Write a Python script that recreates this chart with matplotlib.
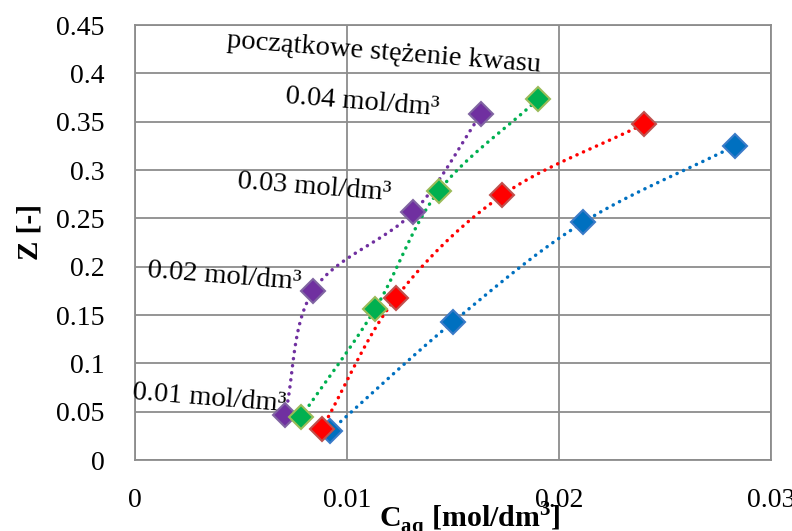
import numpy as np
import matplotlib
matplotlib.use("Agg")
import matplotlib.pyplot as plt

plt.rcParams['font.family'] = ['Liberation Serif', 'DejaVu Serif']
plt.rcParams['mathtext.fontset'] = 'custom'
plt.rcParams['mathtext.rm'] = 'Liberation Serif:bold'
plt.rcParams['mathtext.bf'] = 'Liberation Serif:bold'

# data: C_aq [mol/dm3] vs Z [-]
blue_x = [0.0092, 0.0150, 0.02115, 0.0283]
blue_z = [0.030, 0.1428, 0.246, 0.325]
red_x = [0.0088, 0.0123, 0.01733, 0.0240]
red_z = [0.032, 0.1676, 0.274, 0.3476]
purple_x = [0.00708, 0.0084, 0.01313, 0.01633]
purple_z = [0.0465, 0.175, 0.2565, 0.358]
green_x = [0.00783, 0.01132, 0.01432, 0.0190]
green_z = [0.0445, 0.156, 0.278, 0.373]

series = [
    (blue_x, blue_z, '#0070C0', '#3A7BC8'),
    (red_x, red_z, '#FF0000', '#C0504D'),
    (purple_x, purple_z, '#7030A0', '#8064A2'),
    (green_x, green_z, '#00B050', '#9BBB59'),
]

labels = ['0.01 mol/dm³', '0.02 mol/dm³', '0.03 mol/dm³', '0.04 mol/dm³']
label_pos = [(0.00349, 0.064), (0.00420, 0.190), (0.00844, 0.282), (0.01071, 0.370)]

yticks = [0, 0.05, 0.1, 0.15, 0.2, 0.25, 0.3, 0.35, 0.4, 0.45]
xticks = [0, 0.01, 0.02, 0.03]


def smooth(xs, ys, n=30):
    # catmull-rom through the points, like excel's smoothed line
    p = np.column_stack([xs, ys])
    p = np.vstack([p[0] * 2 - p[1], p, p[-1] * 2 - p[-2]])
    out = []
    t = np.linspace(0, 1, n)[:, None]
    for i in range(1, len(p) - 2):
        p0, p1, p2, p3 = p[i - 1], p[i], p[i + 1], p[i + 2]
        seg = 0.5 * ((2 * p1) + (-p0 + p2) * t + (2 * p0 - 5 * p1 + 4 * p2 - p3) * t ** 2
                     + (-p0 + 3 * p1 - 3 * p2 + p3) * t ** 3)
        out.append(seg)
    out = np.vstack(out)
    return out[:, 0], out[:, 1]


fig = plt.figure(figsize=(7.92, 5.31), dpi=100)
ax = fig.add_axes([0.1705, 0.1337, 0.803, 0.8192])

for xs, zs, col, edge in series:
    sx, sz = smooth(xs, zs)
    ax.plot(sx, sz, color=col, lw=2.5, linestyle=(0, (0.05, 2.0)),
            dash_capstyle='round', zorder=3)
    ax.plot(xs, zs, 'D', ms=12.5, color=col, mec=edge, mew=1.5, zorder=4)

ax.set_xlim(0, 0.03)
ax.set_ylim(0, 0.45)
ax.set_xticks(xticks)
ax.set_yticks(yticks)
ax.set_xticklabels(['0', '0.01', '0.02', '0.03'])
ax.set_yticklabels(['0', '0.05', '0.1', '0.15', '0.2', '0.25', '0.3', '0.35', '0.4', '0.45'])
ax.tick_params(length=0, labelsize=20)
ax.tick_params(axis='x', pad=20)
ax.tick_params(axis='y', pad=22)
ax.grid(True, color='#8C8C8C', lw=1.3)
ax.set_axisbelow(True)
for s in ax.spines.values():
    s.set_color('#8C8C8C')
    s.set_linewidth(1.3)

ax.text(0.01172, 0.421, 'początkowe stężenie kwasu', fontsize=20.5, rotation=-4.5,
        ha='center', va='center', rotation_mode='anchor')
for txt, (tx, tz) in zip(labels, label_pos):
    ax.text(tx, tz, txt, fontsize=20.5, rotation=-4.5, ha='center', va='center',
            rotation_mode='anchor', zorder=5)

fig.text(30 / 792, 1 - 232 / 531, 'Z [-]', rotation=90, fontsize=21, fontweight='bold',
         ha='center', va='center')
fig.text(470 / 792, 1 - 528 / 531, r'C$_\mathrm{aq}$ [mol/dm$^\mathrm{3}$]', fontsize=21.5,
         fontweight='bold', ha='center', va='baseline')

fig.savefig('out.png', dpi=100)
